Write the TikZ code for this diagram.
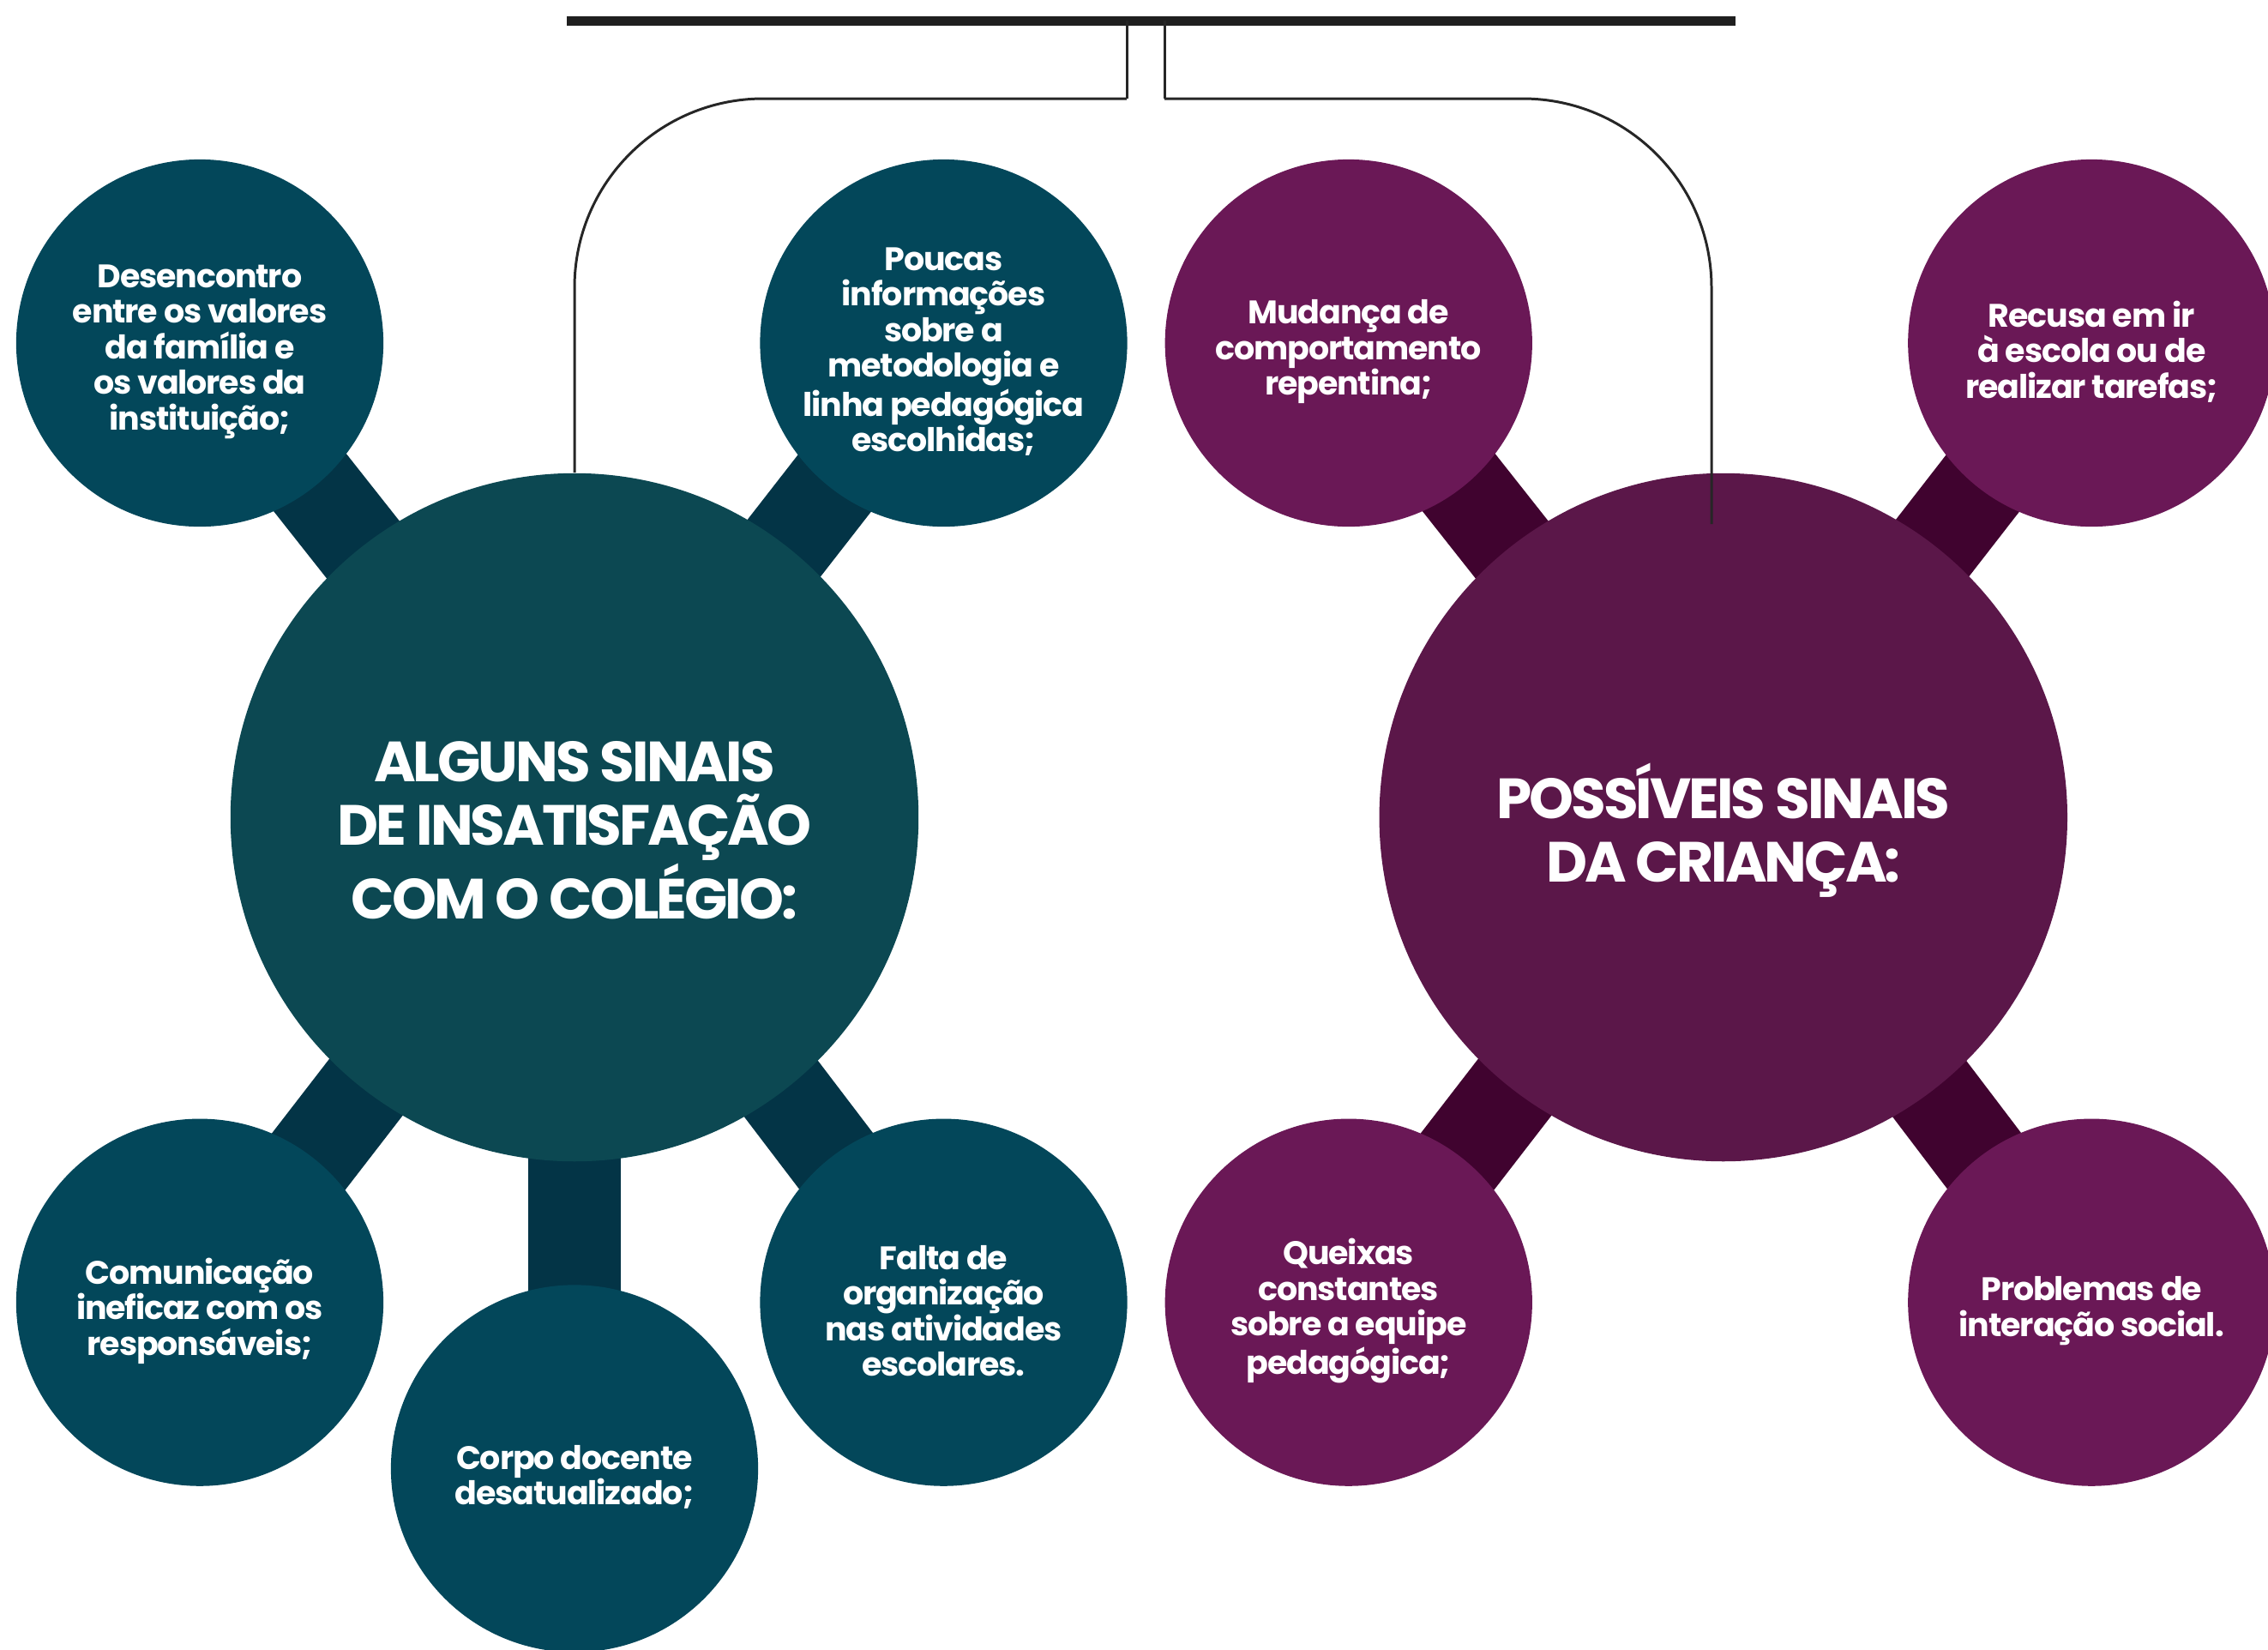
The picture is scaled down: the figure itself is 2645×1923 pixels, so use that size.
\documentclass[tikz,border=0pt]{standalone}
\usepackage{fontspec}
\setmainfont{Poppins}
\newfontfamily\dotfont{Poppins}[LetterSpace=-3]
\newfontfamily\hubfont{Poppins}[LetterSpace=-4.5]
\usetikzlibrary{positioning,backgrounds}

\definecolor{tealdot}{HTML}{03475A}
\definecolor{tealhub}{HTML}{0C4852}
\definecolor{tealbar}{HTML}{033446}
\definecolor{plumdot}{HTML}{6A1856}
\definecolor{plumhub}{HTML}{5B1749}
\definecolor{plumbar}{HTML}{40032F}

\begin{document}
\begin{tikzpicture}[x=0.01cm,y=-0.01cm,
    hub/.style={circle,minimum size=8.02cm,inner sep=0pt},
    dot/.style={circle,minimum size=4.28cm,inner sep=0pt},
    hubtext/.style={text=white,align=center,yshift=-0.15cm,
        font=\hubfont\bfseries\fontsize{18.8}{21.2}\selectfont},
    dottext/.style={text=white,align=center,yshift=-0.1cm,
        font=\dotfont\bfseries\fontsize{10.8}{11.8}\selectfont},
    spoke/.style={line width=1.08cm},
    wire/.style={line width=0.85pt,black!85}]
            \useasboundingbox (0,0) rectangle (2645,1923);

            % left cluster
            \node[hub,fill=tealhub,label={[hubtext]center:ALGUNS SINAIS\\DE INSATISFAÇÃO\\COM O COLÉGIO:}] (alguns) at (670,953) {};
            \node[dot,fill=tealdot,label={[dottext]center:Desencontro\\entre os valores\\da família e\\os valores da\\instituição;}] (desencontro) at (233,400) {};
            \node[dot,fill=tealdot,label={[dottext]center:Poucas\\informações\\sobre a\\metodologia e\\linha pedagógica\\escolhidas;}] (poucas) [right of=desencontro, node distance=8.67cm] {};
            \node[dot,fill=tealdot,label={[dottext]center:Comunicação\\ineficaz com os\\responsáveis;}] (comunicacao) [below of=desencontro, node distance=11.18cm] {};
            \node[dot,fill=tealdot,label={[dottext]center:Falta de\\organização\\nas atividades\\escolares.}] (falta) [right of=comunicacao, node distance=8.67cm] {};
            \node[dot,fill=tealdot,label={[dottext]center:Corpo docente\\desatualizado;}] (corpo) [below of=alguns, node distance=7.59cm] {};

            % right cluster
            \node[hub,fill=plumhub,label={[hubtext]center:POSSÍVEIS SINAIS\\DA CRIANÇA:}] (possiveis) [right of=alguns, node distance=13.39cm] {};
            \node[dot,fill=plumdot,label={[dottext]center:Mudança de\\comportamento\\repentina;}] (mudanca) [right of=poucas, node distance=4.72cm] {};
            \node[dot,fill=plumdot,label={[dottext]center:Recusa em ir\\à escola ou de\\realizar tarefas;}] (recusa) [right of=mudanca, node distance=8.66cm] {};
            \node[dot,fill=plumdot,label={[dottext]center:Queixas\\constantes\\sobre a equipe\\pedagógica;}] (queixas) [below of=mudanca, node distance=11.18cm] {};
            \node[dot,fill=plumdot,label={[dottext]center:Problemas de\\interação social.}] (problemas) [right of=queixas, node distance=8.66cm] {};

            \begin{scope}[on background layer]
                \foreach \leaf in {desencontro,poucas,comunicacao,falta,corpo}
                    \draw[spoke,tealbar] (alguns.center) -- (\leaf.center);
                \foreach \leaf in {mudanca,recusa,queixas,problemas}
                    \draw[spoke,plumbar] (possiveis.center) -- (\leaf.center);
            \end{scope}

            % top rule and the two hangers
            \coordinate (ruleL) at (661,24);
            \coordinate (ruleR) at (2024,24);
            \coordinate (tapL) at (1314,24);
            \coordinate (tapR) at (1358,24);
            \coordinate (kneeL) at (1314,115);
            \coordinate (kneeR) at (1358,115);
            \coordinate (endR) at (1996,611);
            \draw[line width=0.11cm,black!88] (ruleL) -- (ruleR);
            \draw[wire] (tapL) -- (kneeL);
            \draw[wire,rounded corners=2.2cm] (kneeL) -| (alguns.north);
            \draw[wire] (tapR) -- (kneeR);
            \draw[wire,rounded corners=2.2cm] (kneeR) -| (endR);
        \end{tikzpicture}
\end{document}
